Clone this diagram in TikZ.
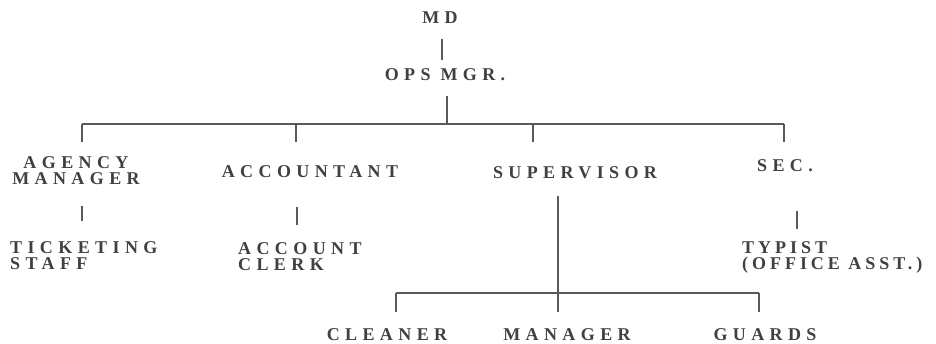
\documentclass[tikz,border=0pt]{standalone}
\usepackage{fontspec}
\newfontfamily\chartfont[LetterSpace=30]{Liberation Serif}
\newfontfamily\chartnarrow[LetterSpace=22]{Liberation Serif}
\begin{document}
\begin{tikzpicture}[x=1pt,y=-1pt,
    post/.style={font=\chartfont\bfseries\fontsize{18}{16.5}\selectfont, inner sep=0pt, anchor=north, text=black!75},
    postleft/.style={post, anchor=north west, align=left},
    link/.style={draw=black!65, line width=1.3pt}]
    \useasboundingbox (0,0) rectangle (936,343);

    % Top of the chart
    \node[post] (md) at (440,12) {MD};
    \node[post] (ops) at (445,68) {OPS MGR.};

    % Second level
    \node[post, align=center] (agency) at (76,156) {AGENCY\\MANAGER};
    \node[post] (acct) at (310,165) {ACCOUNTANT};
    \node[post] (sup) at (575,166) {SUPERVISOR};
    \node[post] (sec) at (785,159) {SEC.};

    % Third level
    \node[postleft] (tick) at (10,241) {TICKETING\\STAFF};
    \node[postleft] (clerk) at (238,242) {ACCOUNT\\CLERK};
    \node[postleft, font=\chartnarrow\bfseries\fontsize{18}{16.5}\selectfont] (typist) at (742,241) {TYPIST\\(OFFICE ASST.)};

    % Under the supervisor
    \node[post] (cleaner) at (387,328) {CLEANER};
    \node[post] (manager) at (567,328) {MANAGER};
    \node[post] (guards) at (765,328) {GUARDS};

    % Junctions on the two buses
    \coordinate (jops) at (447,124);
    \coordinate (jag) at (82,124);
    \coordinate (jac) at (296,124);
    \coordinate (jsu) at (533,124);
    \coordinate (jse) at (784,124);
    \coordinate (jcl) at (396,293);
    \coordinate (jma) at (558,293);
    \coordinate (jgu) at (759,293);

    % MD -> OPS MGR -> bus
    \draw[link] (md.south) ++(2,15) -- ++(0,21);
    \draw[link] (ops.south) ++(2,15) -- (jops);
    \draw[link] (jag) -- (jse);
    \foreach \j in {jag,jac,jsu,jse}
        \draw[link] (\j) -- ++(0,18);

    % Second level -> third level
    \draw[link] (agency.south) ++(6,21) -- ++(0,15);
    \draw[link] (acct.south) ++(-13,30) -- ++(0,18);
    \draw[link] (sec.south) ++(12,39) -- ++(0,18);

    % Supervisor -> lower bus
    \draw[link] (sup.south) ++(-17,17) -- (jma);
    \draw[link] (jcl) -- (jgu);
    \foreach \j in {jcl,jma,jgu}
        \draw[link] (\j) -- ++(0,19);
\end{tikzpicture}
\end{document}
